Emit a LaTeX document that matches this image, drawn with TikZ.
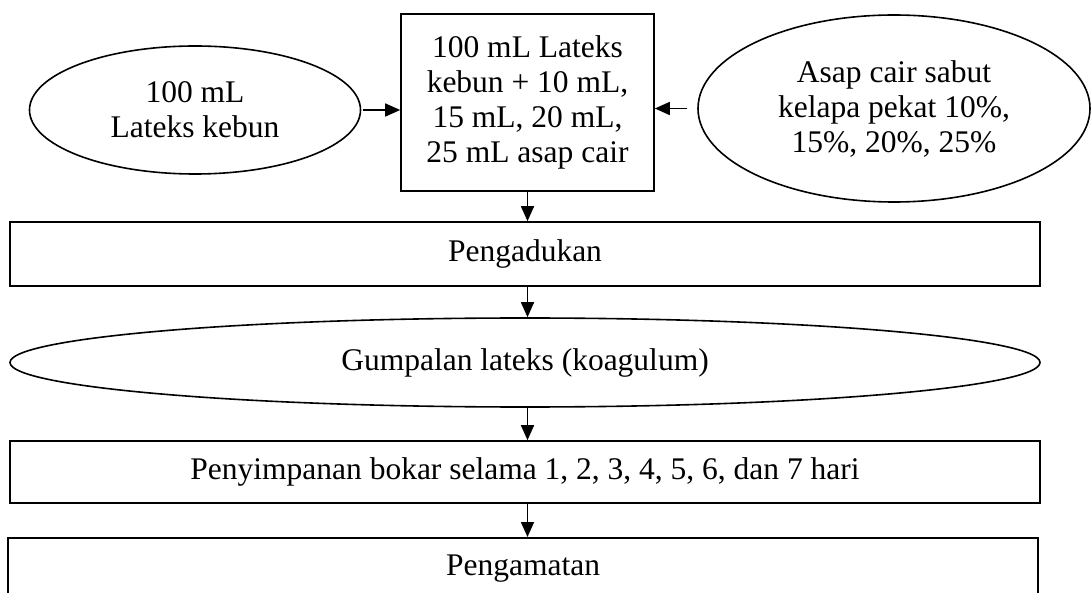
\documentclass[tikz,border=0pt]{standalone}
\usepackage{fontspec}
\setmainfont{Liberation Serif}
\usetikzlibrary{arrows.meta,shapes.geometric}
\begin{document}
\begin{tikzpicture}[x=1pt,y=-1pt,
  font=\fontsize{31.5}{35}\selectfont,
  line width=1.6pt,
  box/.style={draw,rectangle,align=center,inner sep=0pt},
  oval/.style={draw,ellipse,align=center,inner sep=0pt},
  arr/.style={-{Triangle[length=15pt,width=13pt]}}]
\useasboundingbox (0,0) rectangle (1092,593);
\fill[white] (0,0) rectangle (1092,593);
\node[oval,minimum width=331pt,minimum height=128pt] (le) at (195,110) {100 mL\\Lateks kebun};
\node[box,minimum width=253pt,minimum height=177pt] (cb) at (527.5,102.5) {100 mL Lateks\\kebun + 10 mL,\\15 mL, 20 mL,\\25 mL asap cair};
\node[oval,minimum width=392pt,minimum height=187pt] (re) at (894,108.5) {Asap cair sabut\\kelapa pekat 10\%,\\15\%, 20\%, 25\%};
\node[box,minimum width=1030pt,minimum height=64pt] (pa) at (525,254) {Pengadukan};
\node[oval,minimum width=1030pt,minimum height=89pt] (ga) at (525,362.5) {Gumpalan lateks (koagulum)};
\node[box,minimum width=1030pt,minimum height=62pt] (ps) at (525,472) {Penyimpanan bokar selama 1, 2, 3, 4, 5, 6, dan 7 hari};
\node[box,minimum width=1030pt,minimum height=62pt,anchor=north] (pm) at (523,537) {Pengamatan};
\draw[arr] ([xshift=2pt]le.east) -- (le.east -| cb.west);
\draw[arr] ([xshift=-10pt]re.west) -- (re.west -| cb.east);
\draw[arr] (cb.south) -- (cb.south |- pa.north);
\draw[arr] (pa.south -| cb.south) -- (cb.south |- ga.north);
\draw[arr] ([yshift=2pt]ga.south -| cb.south) -- (cb.south |- ps.north);
\draw[arr] ([yshift=2pt]ps.south -| cb.south) -- (cb.south |- pm.north);
\end{tikzpicture}
\end{document}
